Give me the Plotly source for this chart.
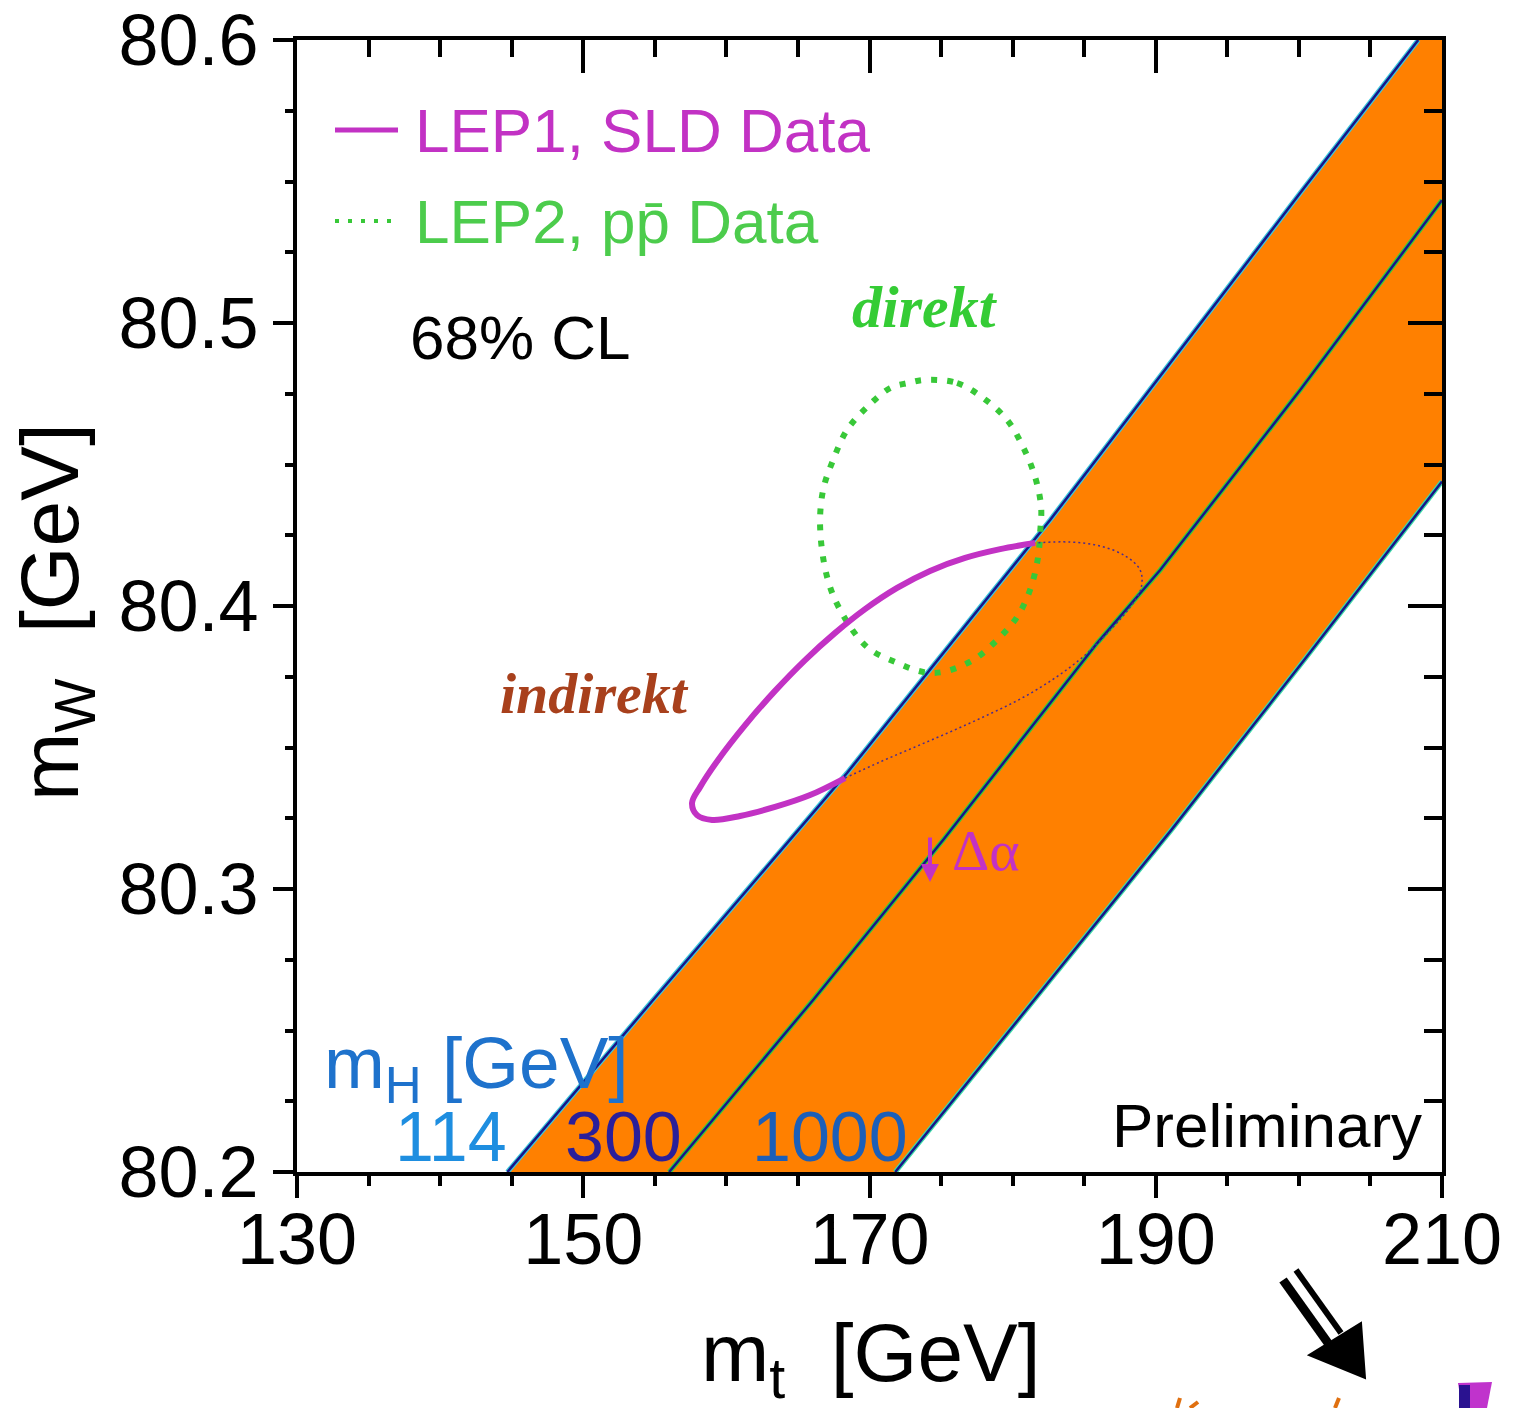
import plotly.graph_objects as go

# ---------------- data ----------------
X_RANGE = [130, 210]
Y_RANGE = [80.2, 80.6]
X_TICKS = [130, 150, 170, 190, 210]
Y_TICKS = [80.2, 80.3, 80.4, 80.5, 80.6]
Y_TICK_TEXT = ["80.2", "80.3", "80.4", "80.5", "80.6"]

# SM band edges, m_H = 114, 300, 1000 GeV  (m_t, m_W)
mt_114 = [144.7, 154.88, 168.43, 182.62, 200.09, 208.34]
mw_114 = [80.2, 80.2608, 80.3410, 80.4304, 80.5459, 80.6]
mt_300 = [156.0, 166.06, 175.14, 185.91, 190.31, 200.09, 210.0]
mw_300 = [80.2, 80.2608, 80.3173, 80.3869, 80.4127, 80.4763, 80.5434]
mt_1000 = [171.8, 181.5, 191.08, 200.37, 210.0]
mw_1000 = [80.2, 80.2608, 80.3208, 80.3809, 80.444]

# LEP1/SLD (indirect) 68% CL contour: solid part (outside band) and dotted part (inside band)
ind_mt_solid = [181.57, 179.13, 176.68, 174.23, 171.93, 169.69, 167.60, 165.50, 163.40, 161.31,
                159.42, 158.16, 157.60, 157.95, 159.00, 160.96, 163.40, 165.85, 168.29]
ind_mw_solid = [80.4223, 80.4201, 80.4170, 80.4124, 80.4064, 80.3989, 80.3905, 80.3809, 80.3700, 80.3579,
                80.3456, 80.3360, 80.3304, 80.3261, 80.3244, 80.3258, 80.3290, 80.3332, 80.3392]
ind_mt_dot = [168.29, 170.74, 173.19, 175.63, 178.08, 180.52, 182.97, 185.07, 186.81, 188.21,
              188.98, 188.91, 187.86, 186.11, 184.02, 181.57]
ind_mw_dot = [80.3392, 80.3449, 80.3502, 80.3555, 80.3611, 80.3671, 80.3746, 80.3827, 80.3915, 80.3996,
              80.4064, 80.4127, 80.4177, 80.4212, 80.4226, 80.4223]

# LEP2/Tevatron (direct) 68% CL contour
dir_mt = [173.89, 176.12, 177.94, 179.62, 180.73, 181.57, 181.99, 181.92, 181.78, 181.22,
          180.31, 178.92, 177.24, 175.14, 173.75, 171.93, 169.83, 167.95, 167.04, 166.55,
          166.76, 167.46, 168.43, 169.83, 171.44, 172.70, 173.89]
dir_mw = [80.4799, 80.4788, 80.4735, 80.4657, 80.4562, 80.4456, 80.4350, 80.4258, 80.4173, 80.4057,
          80.3961, 80.3880, 80.3809, 80.3767, 80.3767, 80.3799, 80.3855, 80.3986, 80.4102, 80.4279,
          80.4410, 80.4516, 80.4622, 80.4703, 80.4770, 80.4788, 80.4799]

# ---------------- layout geometry ----------------
W, H = 1520, 1408
L, R, T, B = 297, 1442, 40, 1172


def PX(p):
    return (p - L) / (R - L)


def PY(p):
    return (B - p) / (B - T)


ORANGE = "#ff8000"
MAGENTA = "#c232c4"
GREEN = "#38c838"
NAVY = "#17158a"

fig = go.Figure()

# band fill
band_x = mt_114 + [X_RANGE[1]] + mt_1000[::-1]
band_y = mw_114 + [Y_RANGE[1]] + mw_1000[::-1]
fig.add_trace(go.Scatter(x=band_x, y=band_y, fill="toself", fillcolor=ORANGE,
                         line=dict(width=0), mode="lines", hoverinfo="skip", showlegend=False))

# band edge lines (halo + core)
for xs, ys, halo in [(mt_114, mw_114, "#3cc8dc"), (mt_300, mw_300, "#36cc3a"), (mt_1000, mw_1000, "#3cdca8")]:
    fig.add_trace(go.Scatter(x=xs, y=ys, mode="lines", line=dict(color=halo, width=5),
                             hoverinfo="skip", showlegend=False))
    fig.add_trace(go.Scatter(x=xs, y=ys, mode="lines", line=dict(color=NAVY, width=2.5),
                             hoverinfo="skip", showlegend=False))

# direct contour (green dotted)
fig.add_trace(go.Scatter(x=dir_mt, y=dir_mw, mode="lines",
                         line=dict(color=GREEN, width=6, dash="6px,10px", shape="spline"),
                         hoverinfo="skip", showlegend=False))

# indirect contour
fig.add_trace(go.Scatter(x=ind_mt_solid, y=ind_mw_solid, mode="lines",
                         line=dict(color=MAGENTA, width=6, shape="spline", smoothing=1.0),
                         hoverinfo="skip", showlegend=False))
fig.add_trace(go.Scatter(x=ind_mt_dot, y=ind_mw_dot, mode="lines",
                         line=dict(color="#4a2a90", width=1.5, dash="2px,3px", shape="spline", smoothing=1.0),
                         hoverinfo="skip", showlegend=False))

# invisible trace to anchor mirrored axes
fig.add_trace(go.Scatter(x=[], y=[], xaxis="x2", yaxis="y2", showlegend=False, hoverinfo="skip"))

# ---------------- annotations ----------------
SANS = "Liberation Sans, Arial, sans-serif"
SERIF = "Liberation Serif, Times New Roman, serif"
ann = []


def add_text(text, px, py, size, color, family=SANS, xanchor="left", yanchor="middle", angle=0):
    ann.append(dict(text=text, x=PX(px), y=PY(py), xref="paper", yref="paper",
                    xanchor=xanchor, yanchor=yanchor, showarrow=False, textangle=angle,
                    font=dict(family=family, size=size, color=color)))


add_text("LEP1, SLD Data", 413, 130, 62, MAGENTA)
add_text("LEP2, pp\u0304 Data", 413, 221, 62, "#4ccc4c")
add_text("68% CL", 408, 337, 62, "black")
add_text("<b><i>direkt</i></b>", 850, 307, 60, "#35cc35", family=SERIF)
add_text("<b><i>indirekt</i></b>", 498, 693, 58, "#a8401c", family=SERIF)
add_text("\u0394\u03b1", 950, 850, 58, MAGENTA, family=SERIF)
add_text("m<sub>H</sub> [GeV]", 322, 1068, 73, "#1e72cc")
add_text("114", 393, 1137, 70, "#1e8ee0")
add_text("300", 563, 1137, 70, "#2a1f9a")
add_text("1000", 750, 1137, 70, "#1c5fb8")
add_text("Preliminary", 1110, 1125, 62, "black")
add_text("m<sub>t</sub>  [GeV]", 870, 1358, 82, "black", xanchor="center")
add_text("m<sub>W</sub>  [GeV]", 55, 612, 82, "black", xanchor="center", angle=-90)

# delta-alpha arrow
ann.append(dict(x=PX(930), y=PY(882), ax=0, ay=-46, xref="paper", yref="paper",
                showarrow=True, arrowhead=2, arrowsize=0.9, arrowwidth=4, arrowcolor=MAGENTA, text=""))

# ---------------- shapes (legend samples, decorations) ----------------
shapes = [
    dict(type="line", xref="paper", yref="paper", x0=PX(335), x1=PX(398), y0=PY(130), y1=PY(130),
         line=dict(color=MAGENTA, width=5)),
    dict(type="line", xref="paper", yref="paper", x0=PX(335), x1=PX(392), y0=PY(221), y1=PY(221),
         line=dict(color=GREEN, width=4, dash="4px,9px")),
    # double-line arrow, bottom right
    dict(type="line", xref="paper", yref="paper", x0=PX(1296), y0=PY(1270), x1=PX(1341), y1=PY(1333),
         line=dict(color="black", width=6)),
    dict(type="line", xref="paper", yref="paper", x0=PX(1283), y0=PY(1280), x1=PX(1328), y1=PY(1343),
         line=dict(color="black", width=9)),
    dict(type="path", xref="paper", yref="paper",
         path="M {:.5f},{:.5f} L {:.5f},{:.5f} L {:.5f},{:.5f} Z".format(
             PX(1309), PY(1355), PX(1361), PY(1323), PX(1365), PY(1378)),
         fillcolor="black", line=dict(color="black", width=2)),
    # cut-off purple block at the very bottom right
    dict(type="path", xref="paper", yref="paper",
         path="M {:.5f},{:.5f} L {:.5f},{:.5f} L {:.5f},{:.5f} L {:.5f},{:.5f} Z".format(
             PX(1458), PY(1383), PX(1492), PY(1382), PX(1487), PY(1408), PX(1462), PY(1408)),
         fillcolor="#c033cc", line=dict(width=0)),
    dict(type="rect", xref="paper", yref="paper", x0=PX(1459), x1=PX(1470), y0=PY(1408), y1=PY(1385),
         fillcolor="#2a1290", line=dict(width=0)),
    # cut-off orange fragments at the bottom
    dict(type="line", xref="paper", yref="paper", x0=PX(1180), y0=PY(1398), x1=PX(1177), y1=PY(1408),
         line=dict(color="#e07010", width=4)),
    dict(type="line", xref="paper", yref="paper", x0=PX(1198), y0=PY(1402), x1=PX(1190), y1=PY(1408),
         line=dict(color="#e07010", width=4)),
    dict(type="line", xref="paper", yref="paper", x0=PX(1339), y0=PY(1398), x1=PX(1335), y1=PY(1408),
         line=dict(color="#e07010", width=4)),
]

TICKFONT = dict(family=SANS, size=72, color="black")

fig.update_layout(
    template="none",
    width=W, height=H,
    margin=dict(l=L, r=W - R, t=T, b=H - B, pad=0, autoexpand=False),
    paper_bgcolor="white", plot_bgcolor="white",
    showlegend=False,
    annotations=ann,
    shapes=shapes,
    xaxis=dict(range=X_RANGE, tickmode="array", tickvals=X_TICKS, ticktext=[str(v) for v in X_TICKS],
               ticks="outside", ticklen=22, tickwidth=4, tickcolor="black",
               minor=dict(dtick=5, tick0=130, ticks="outside", ticklen=10, tickwidth=4, tickcolor="black"),
               showline=True, linewidth=4, linecolor="black", showgrid=False, zeroline=False,
               tickfont=TICKFONT, ticklabelstandoff=-20, automargin=False),
    yaxis=dict(range=Y_RANGE, tickmode="array", tickvals=Y_TICKS, ticktext=Y_TICK_TEXT,
               ticks="outside", ticklen=20, tickwidth=4, tickcolor="black",
               minor=dict(dtick=0.025, tick0=80.2, ticks="outside", ticklen=8, tickwidth=4, tickcolor="black"),
               showline=True, linewidth=4, linecolor="black", showgrid=False, zeroline=False,
               tickfont=TICKFONT, ticklabelstandoff=0, automargin=False),
    xaxis2=dict(range=X_RANGE, overlaying="x", side="top", anchor="y", tickmode="array", tickvals=X_TICKS,
                showticklabels=False, ticks="inside", ticklen=33, tickwidth=4, tickcolor="black",
                minor=dict(dtick=5, tick0=130, ticks="inside", ticklen=17, tickwidth=4, tickcolor="black"),
                showline=True, linewidth=4, linecolor="black", showgrid=False, zeroline=False,
                automargin=False),
    yaxis2=dict(range=Y_RANGE, overlaying="y", side="right", anchor="x", tickmode="array", tickvals=Y_TICKS,
                showticklabels=False, ticks="inside", ticklen=34, tickwidth=4, tickcolor="black",
                minor=dict(dtick=0.025, tick0=80.2, ticks="inside", ticklen=18, tickwidth=4, tickcolor="black"),
                showline=True, linewidth=4, linecolor="black", showgrid=False, zeroline=False,
                automargin=False),
)

fig.write_html("out.html")
